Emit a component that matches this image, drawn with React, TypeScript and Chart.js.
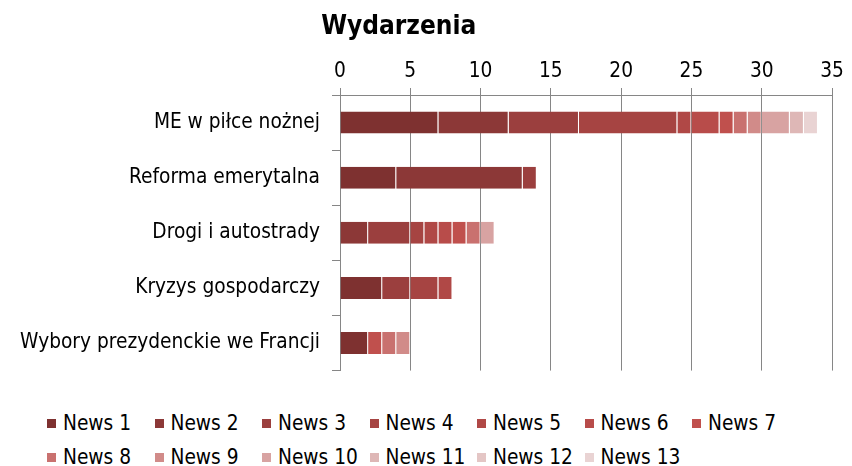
import React, { useEffect, useRef } from "react";
import { Chart, registerables } from "chart.js";

Chart.register(...registerables);

const FONT = "'DejaVu Sans Condensed', 'DejaVu Sans', sans-serif";
const FS = 20.7;

const title = "Wydarzenia";
const categories = [
  "ME w piłce nożnej",
  "Reforma emerytalna",
  "Drogi i autostrady",
  "Kryzys gospodarczy",
  "Wybory prezydenckie we Francji",
];
const seriesNames = [
  "News 1", "News 2", "News 3", "News 4", "News 5", "News 6", "News 7",
  "News 8", "News 9", "News 10", "News 11", "News 12", "News 13",
];
const news1 = [7, 4, 0, 3, 2];
const news2 = [5, 9, 2, 0, 0];
const news3 = [5, 1, 3, 2, 0];
const news4 = [7, 0, 1, 2, 0];
const news5 = [1, 0, 1, 1, 0];
const news6 = [2, 0, 1, 0, 0];
const news7 = [1, 0, 1, 0, 1];
const news8 = [1, 0, 1, 0, 1];
const news9 = [1, 0, 0, 0, 1];
const news10 = [2, 0, 1, 0, 0];
const news11 = [1, 0, 0, 0, 0];
const news12 = [0, 0, 0, 0, 0];
const news13 = [1, 0, 0, 0, 0];
const seriesValues = [news1, news2, news3, news4, news5, news6, news7, news8, news9, news10, news11, news12, news13];
const seriesColors = [
  "#7E3130", "#8C3837", "#9B3F3E", "#A64442", "#B04846", "#B84C4A", "#C0504D",
  "#C9716F", "#D18B89", "#D8A3A2", "#DEB7B6", "#E4C6C5", "#E9D3D3",
];
const xMin = 0;
const xMax = 35;
const xStep = 5;

const AXIS = "#868686";

const titlePlugin = {
  id: "customTitle",
  afterDraw(chart: any) {
    const ctx = chart.ctx;
    ctx.save();
    ctx.font = `bold 26px ${FONT}`;
    ctx.fillStyle = "#000";
    ctx.textAlign = "center";
    ctx.textBaseline = "middle";
    ctx.fillText(title, chart.width * 0.468, 27);
    ctx.restore();
  },
};

export default function App() {
  const ref = useRef<HTMLCanvasElement | null>(null);

  useEffect(() => {
    if (!ref.current) return;
    const chart = new Chart(ref.current, {
      type: "bar",
      data: {
        labels: categories,
        datasets: seriesNames.map((name, i) => ({
          label: name,
          data: seriesValues[i],
          backgroundColor: seriesColors[i],
          borderColor: "rgba(255,255,255,0.1)",
          borderWidth: { top: 0, bottom: 0, left: 0, right: 1 },
          borderSkipped: false,
          barPercentage: 0.4,
          categoryPercentage: 1,
        })),
      },
      options: {
        indexAxis: "y",
        responsive: false,
        animation: false,
        devicePixelRatio: 1,
        layout: { padding: { top: 45, right: 20, bottom: 10, left: 0 } },
        plugins: {
          legend: { display: false },
          title: { display: false },
          tooltip: { enabled: false },
        },
        scales: {
          x: {
            position: "top",
            stacked: true,
            min: xMin,
            max: xMax,
            ticks: {
              stepSize: xStep,
              color: "#000",
              font: { family: FONT, size: FS },
              padding: 4,
            },
            grid: {
              color: AXIS,
              lineWidth: 1,
              drawTicks: true,
              tickLength: 7,
            },
            border: { color: AXIS, width: 1 },
            afterFit(scale: any) {
              scale.height = 50;
            },
          },
          y: {
            stacked: true,
            ticks: {
              color: "#000",
              font: { family: FONT, size: FS },
              padding: 12,
            },
            grid: {
              display: true,
              drawOnChartArea: false,
              drawTicks: true,
              tickLength: 8,
              color: AXIS,
              offset: true,
            },
            border: { color: AXIS, width: 1 },
            afterFit(scale: any) {
              scale.width = 340;
            },
          },
        },
      },
      plugins: [titlePlugin],
    } as any);
    return () => chart.destroy();
  }, []);

  return (
    <div style={{ position: "fixed", left: 0, top: 0, width: 852, height: 466, background: "#fff", overflow: "hidden" }}>
      <canvas ref={ref} width={852} height={395} style={{ position: "absolute", left: 0, top: 0 }} />
      <div
        style={{
          position: "absolute",
          left: 47,
          top: 406,
          display: "grid",
          gridTemplateColumns: "repeat(7, 107.5px)",
          gridAutoRows: "34px",
          fontFamily: FONT,
          fontSize: FS,
          color: "#000",
        }}
      >
        {seriesNames.map((name, i) => (
          <div key={name} style={{ display: "flex", alignItems: "center", whiteSpace: "nowrap", height: 34 }}>
            <span style={{ display: "inline-block", width: 9, height: 9, background: seriesColors[i], marginRight: 7 }} />
            <span>{name}</span>
          </div>
        ))}
      </div>
    </div>
  );
}
